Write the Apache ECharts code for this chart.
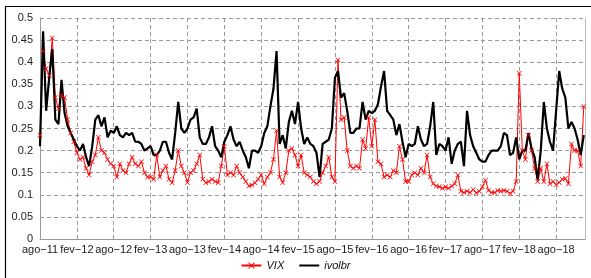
<!DOCTYPE html>
<html>
<head>
<meta charset="utf-8">
<script src="https://cdn.jsdelivr.net/npm/echarts@6/dist/echarts.min.js"></script>
<style>
html, body { margin: 0; padding: 0; background: #fff; }
#chart { width: 591px; height: 278px; }
</style>
</head>
<body>
<div id="chart"></div>
<script>
// x axis is counted in months from ago-11, one point every half month
var xLabels = ['ago−11', 'fev−12', 'ago−12', 'fev−13', 'ago−13', 'fev−14', 'ago−14', 'fev−15',
	'ago−15', 'fev−16', 'ago−16', 'fev−17', 'ago−17', 'fev−18', 'ago−18'];
var step = 0.5;
var lastMonth = 88.7;

var vix = [
	0.235, 0.425, 0.385, 0.37, 0.455, 0.32, 0.295, 0.325, 0.32, 0.27,
	0.24, 0.22, 0.195, 0.18, 0.185, 0.16, 0.145, 0.175, 0.19, 0.23,
	0.2, 0.195, 0.18, 0.17, 0.165, 0.14, 0.17, 0.155, 0.15, 0.17,
	0.185, 0.17, 0.165, 0.175, 0.15, 0.14, 0.14, 0.135, 0.19, 0.14,
	0.155, 0.165, 0.135, 0.127, 0.155, 0.2, 0.165, 0.15, 0.128, 0.15,
	0.155, 0.17, 0.19, 0.135, 0.127, 0.13, 0.135, 0.13, 0.127, 0.165,
	0.21, 0.145, 0.15, 0.145, 0.165, 0.15, 0.14, 0.13, 0.12, 0.122,
	0.127, 0.135, 0.145, 0.125, 0.14, 0.15, 0.18, 0.245, 0.14, 0.128,
	0.15, 0.2, 0.205, 0.19, 0.165, 0.19, 0.15, 0.145, 0.14, 0.13,
	0.125, 0.13, 0.15, 0.165, 0.185, 0.14, 0.13, 0.405, 0.27, 0.275,
	0.2, 0.165, 0.16, 0.165, 0.16, 0.225, 0.205, 0.275, 0.21, 0.27,
	0.175, 0.17, 0.14, 0.145, 0.14, 0.155, 0.15, 0.21, 0.18, 0.13,
	0.13, 0.145, 0.15, 0.145, 0.16, 0.15, 0.19, 0.14, 0.125, 0.12,
	0.118, 0.115, 0.118, 0.115, 0.12, 0.125, 0.145, 0.108, 0.105, 0.108,
	0.105, 0.112, 0.104, 0.108, 0.118, 0.133, 0.11, 0.105, 0.105, 0.11,
	0.108, 0.11, 0.108, 0.103, 0.108, 0.13, 0.375, 0.2, 0.18, 0.235,
	0.2, 0.16, 0.13, 0.16, 0.13, 0.17, 0.125, 0.13, 0.123, 0.128,
	0.135, 0.137, 0.125, 0.215, 0.2, 0.2, 0.165, 0.3
];

var ivolbr = [
	0.21, 0.47, 0.29, 0.365, 0.43, 0.27, 0.26, 0.36, 0.285, 0.255,
	0.24, 0.225, 0.21, 0.2, 0.215, 0.185, 0.165, 0.21, 0.27, 0.28,
	0.255, 0.275, 0.23, 0.245, 0.24, 0.255, 0.235, 0.23, 0.24, 0.235,
	0.24, 0.22, 0.22, 0.215, 0.2, 0.205, 0.21, 0.19, 0.19, 0.2,
	0.22, 0.22, 0.195, 0.18, 0.24, 0.31, 0.25, 0.24, 0.25, 0.27,
	0.275, 0.295, 0.23, 0.215, 0.215, 0.23, 0.255, 0.21, 0.2, 0.185,
	0.22, 0.235, 0.255, 0.225, 0.21, 0.22, 0.2, 0.185, 0.16, 0.2,
	0.2, 0.195, 0.21, 0.24, 0.255, 0.3, 0.34, 0.425, 0.215, 0.235,
	0.205, 0.265, 0.29, 0.26, 0.31, 0.25, 0.215, 0.23, 0.215, 0.21,
	0.195, 0.14, 0.215, 0.22, 0.225, 0.25, 0.365, 0.38, 0.32, 0.33,
	0.29, 0.24, 0.24, 0.25, 0.25, 0.31, 0.27, 0.29, 0.285, 0.29,
	0.305, 0.345, 0.38, 0.29, 0.28, 0.27, 0.235, 0.26, 0.22, 0.185,
	0.215, 0.21, 0.215, 0.255, 0.225, 0.21, 0.215, 0.255, 0.31, 0.19,
	0.215, 0.21, 0.2, 0.23, 0.17, 0.2, 0.215, 0.22, 0.165, 0.29,
	0.235, 0.21, 0.195, 0.18, 0.175, 0.175, 0.19, 0.2, 0.2, 0.2,
	0.21, 0.24, 0.235, 0.19, 0.195, 0.23, 0.18, 0.2, 0.2, 0.24,
	0.205, 0.185, 0.135, 0.2, 0.31, 0.25, 0.22, 0.2, 0.29, 0.38,
	0.34, 0.32, 0.25, 0.265, 0.25, 0.225, 0.19, 0.235
];

function toPoints(arr) {
	return arr.map(function(v, i) {
		return [i * step, v];
	});
}

var xMark = 'path://M0,1L1,0L5,4L9,0L10,1L6,5L10,9L9,10L5,6L1,10L0,9L4,5Z';
var font = 'Liberation Sans';

var myChart = echarts.init(document.getElementById('chart'));
var option = {
	animation : false,
	backgroundColor : '#fff',
	graphic : [ {
		type : 'rect',
		silent : true,
		shape : { x : 5.5, y : 6.5, width : 700, height : 400 },
		style : { fill : 'none', stroke : '#000', lineWidth : 1.2 }
	} ],
	grid : { left : 40, right : 6, top : 18, bottom : 39 },
	legend : {
		bottom : 2,
		left : 'center',
		itemWidth : 20,
		itemHeight : 8,
		itemGap : 14,
		textStyle : { fontFamily : font, fontStyle : 'italic', fontSize : 11, color : '#111' },
		data : [ 'VIX', {
			name : 'ivolbr',
			itemStyle : { opacity : 0 }
		} ]
	},
	xAxis : {
		type : 'value',
		min : 0,
		max : lastMonth,
		interval : 6,
		axisLine : { lineStyle : { color : '#999' } },
		axisTick : { show : false },
		axisLabel : {
			fontFamily : font,
			fontSize : 11,
			color : '#222',
			margin : 5,
			showMinLabel : true,
			showMaxLabel : false,
			formatter : function(v) {
				var k = Math.round(v / 6);
				return (Math.abs(v - k * 6) < 0.01 && xLabels[k]) ? xLabels[k] : '';
			}
		},
		splitLine : { lineStyle : { color : '#9a9a9a', type : [ 4, 3 ] } }
	},
	yAxis : [ {
		type : 'value',
		min : 0,
		max : 0.5,
		interval : 0.05,
		axisLine : { show : true, lineStyle : { color : '#999' } },
		axisTick : { show : false },
		axisLabel : { fontFamily : font, fontSize : 11, color : '#222', margin : 7 },
		splitLine : { lineStyle : { color : '#9a9a9a', type : [ 4, 3 ] } }
	}, {
		type : 'value',
		position : 'right',
		min : 0,
		max : 0.5,
		axisLine : { show : true, lineStyle : { color : '#bbb' } },
		axisTick : { show : false },
		axisLabel : { show : false },
		splitLine : { show : false }
	} ],
	series : [ {
		name : 'VIX',
		type : 'line',
		data : toPoints(vix),
		symbol : xMark,
		symbolSize : 5,
		showAllSymbol : true,
		itemStyle : { color : '#ff0000' },
		lineStyle : { color : '#ff0000', width : 1 }
	}, {
		name : 'ivolbr',
		type : 'line',
		data : toPoints(ivolbr),
		symbol : 'none',
		itemStyle : { color : '#000' },
		lineStyle : { color : '#000', width : 2.2 }
	} ]
};
myChart.setOption(option);
</script>
</body>
</html>
